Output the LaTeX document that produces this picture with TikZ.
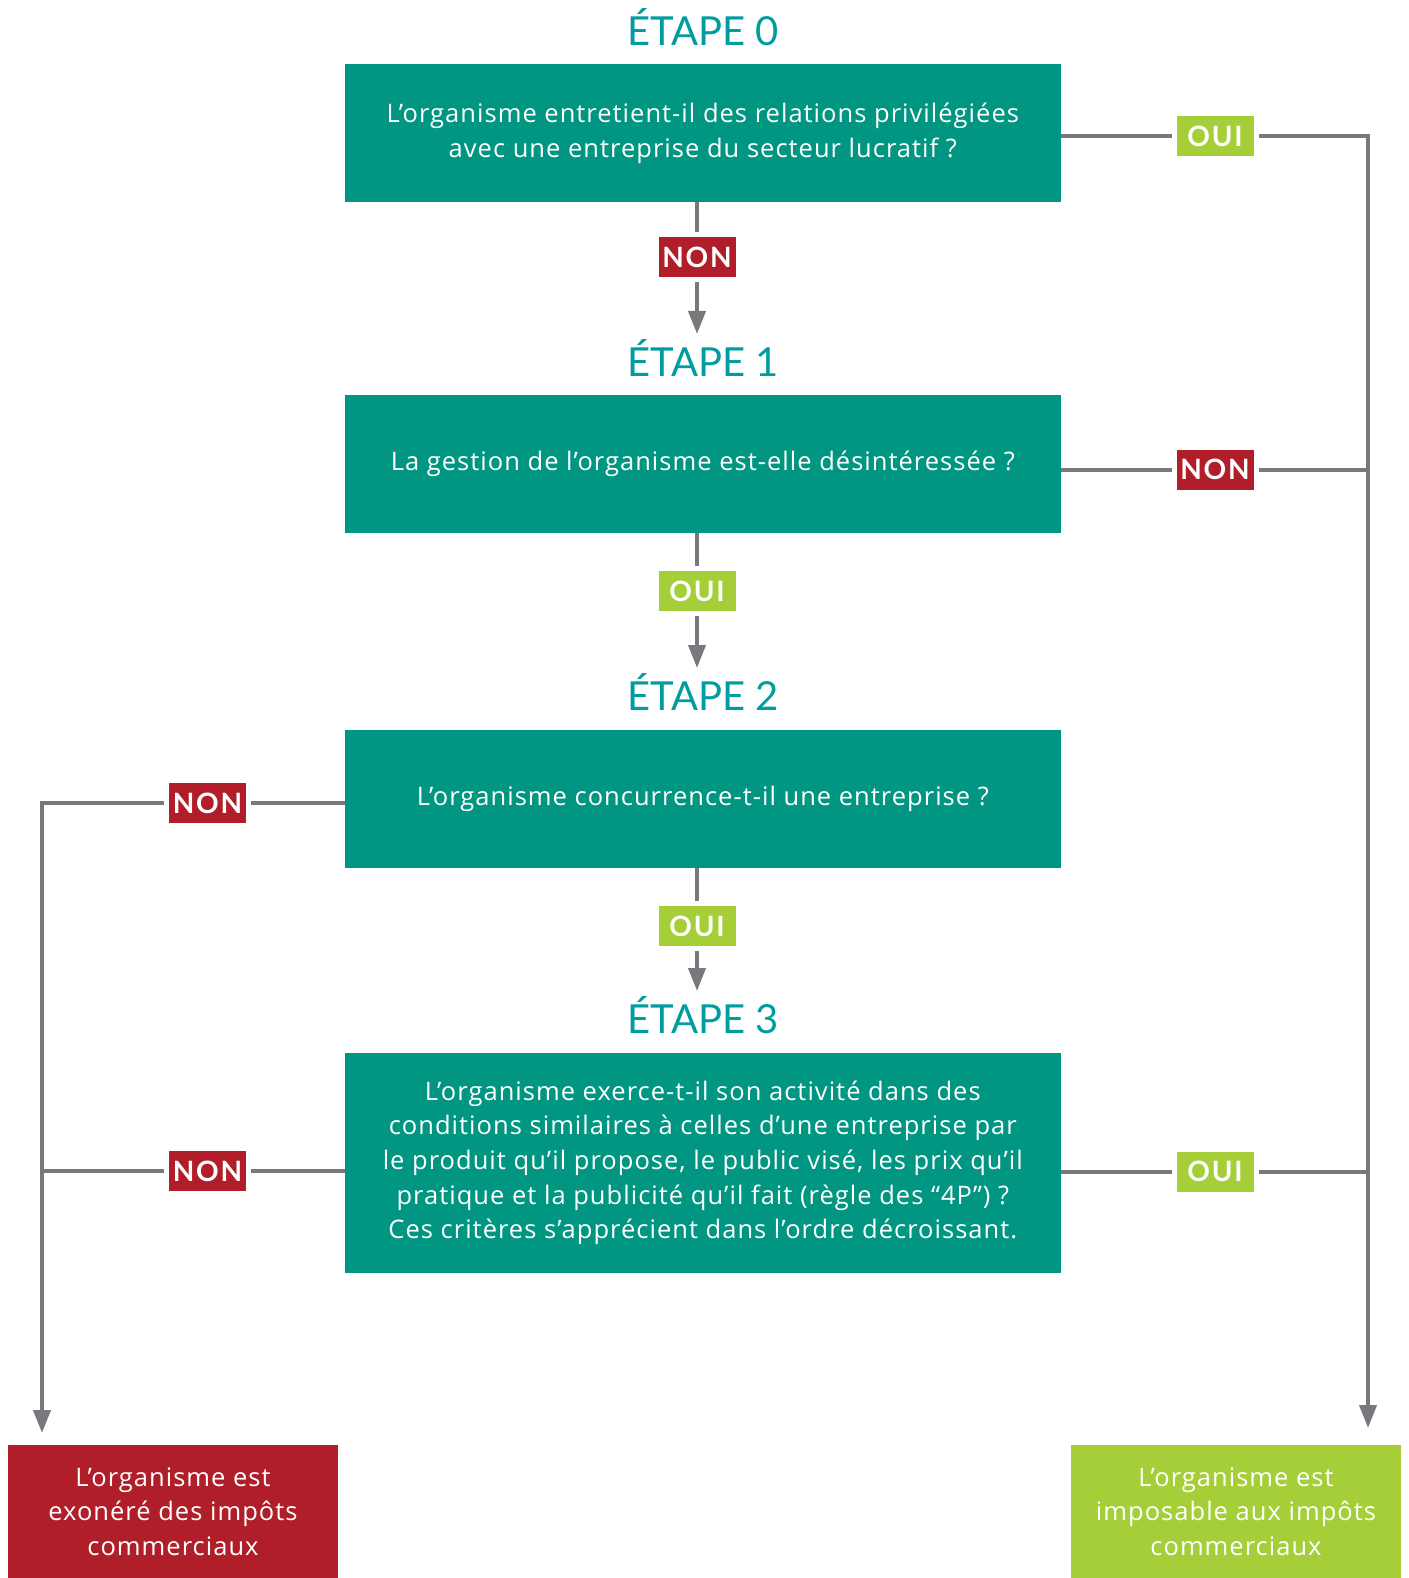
\documentclass[tikz,border=0pt]{standalone}
\usepackage{fontspec}
\setmainfont{Lato}
\newfontfamily\corpsfont[LetterSpace=4]{Open Sans}
\usetikzlibrary{arrows.meta}
\definecolor{boxteal}{RGB}{0,150,130}
\definecolor{titleteal}{RGB}{0,156,160}
\definecolor{nonred}{RGB}{176,31,41}
\definecolor{ouigreen}{RGB}{165,206,57}
\definecolor{linegray}{RGB}{120,121,125}

\begin{document}
\begin{tikzpicture}[x=1pt,y=-1pt,
	question/.style={fill=boxteal,text=white,minimum width=715.7pt,minimum height=137.7pt,inner sep=0pt,outer sep=0pt,align=center,font=\corpsfont\fontsize{25.5}{34.7}\selectfont},
	etape/.style={text=titleteal,font=\fontsize{40}{40}\selectfont,anchor=base,text height=36pt,text depth=0pt,inner xsep=0pt,inner ysep=6pt,outer sep=0pt},
	nonbox/.style={fill=nonred,text=white,font=\bfseries\fontsize{28}{28}\selectfont\addfontfeature{LetterSpace=6},minimum width=77pt,minimum height=40pt,inner sep=0pt,outer sep=5pt},
	ouibox/.style={nonbox,fill=ouigreen},
	result/.style={text=white,minimum width=330pt,minimum height=133pt,inner sep=0pt,outer sep=0pt,align=center,font=\corpsfont\fontsize{25.5}{34.7}\selectfont},
	ln/.style={draw=linegray,line width=4pt},
	arr/.style={ln,-{Triangle[width=17pt,length=23pt]}}]
			\useasboundingbox (0,0) rectangle (1408,1578);
			
			\node[etape] (Etape0) at (703,46) {ÉTAPE 0};
			\node[etape] (Etape1) at (703,376) {ÉTAPE 1};
			\node[etape] (Etape2) at (703,710) {ÉTAPE 2};
			\node[etape] (Etape3) at (703,1033) {ÉTAPE 3};
			
			\node[question,minimum height=138pt] (Question0) at (702.8,133) {L’organisme entretient-il des relations privilégiées\\avec une entreprise du secteur lucratif ?};
			\node[question] (Question1) at (702.8,463.8) {La gestion de l’organisme est-elle désintéressée ?};
			\node[question] (Question2) at (702.8,798.7) {L’organisme concurrence-t-il une entreprise ?};
			\node[question,minimum height=219.7pt] (Question3) at (702.8,1162.8) {L’organisme exerce-t-il son activité dans des\\conditions similaires à celles d’une entreprise par\\le produit qu’il propose, le public visé, les prix qu’il\\pratique et la publicité qu’il fait (règle des “4P”) ?\\Ces critères s’apprécient dans l’ordre décroissant.};
			
			\node[result,fill=nonred] (Exonere) at (173,1511.5) {L’organisme est\\exonéré des impôts\\commerciaux};
			\node[result,fill=ouigreen] (Imposable) at (1236,1511.5) {L’organisme est\\imposable aux impôts\\commerciaux};
			
			\node[nonbox] (Non0) at (697,257) {NON};
			\node[ouibox] (Oui1) at (697,591) {OUI};
			\node[ouibox] (Oui2) at (697,926) {OUI};
			\node[ouibox] (Oui0) at (1215,136.5) {OUI};
			\node[nonbox] (Non1) at (1215,469.5) {NON};
			\node[ouibox] (Oui3) at (1215,1171.5) {OUI};
			\node[nonbox] (Non2) at (207.5,803) {NON};
			\node[nonbox] (Non3) at (207.5,1171) {NON};
			
			\coordinate (Droite) at (1368,136.5);
			\coordinate (Gauche) at (42,803);
			
			% colonne centrale
			\draw[ln] (Question0.south -| Non0) to (Non0);
			\draw[arr] (Non0) to (Non0 |- Etape1.north);
			\draw[ln] (Question1.south -| Oui1) to (Oui1);
			\draw[arr] (Oui1) to (Oui1 |- Etape2.north);
			\draw[ln] (Question2.south -| Oui2) to (Oui2);
			\draw[arr] (Oui2) to (Oui2 |- Etape3.north);
			
			% vers imposable
			\draw[ln] (Question0.east |- Oui0) to (Oui0);
			\draw[arr,shorten >=17pt] (Oui0) -- (Oui0 -| Droite) -- (Droite |- Imposable.north);
			\draw[ln] (Question1.east |- Non1) to (Non1);
			\draw[ln] (Non1) to (Non1 -| Droite);
			\draw[ln] (Question3.east |- Oui3) to (Oui3);
			\draw[ln] (Oui3) to (Oui3 -| Droite);
			
			% vers exonere
			\draw[ln] (Question2.west |- Non2) to (Non2);
			\draw[arr,shorten >=12pt] (Non2) -- (Non2 -| Gauche) -- (Gauche |- Exonere.north);
			\draw[ln] (Question3.west |- Non3) to (Non3);
			\draw[ln] (Non3) to (Non3 -| Gauche);
\end{tikzpicture}
\end{document}
